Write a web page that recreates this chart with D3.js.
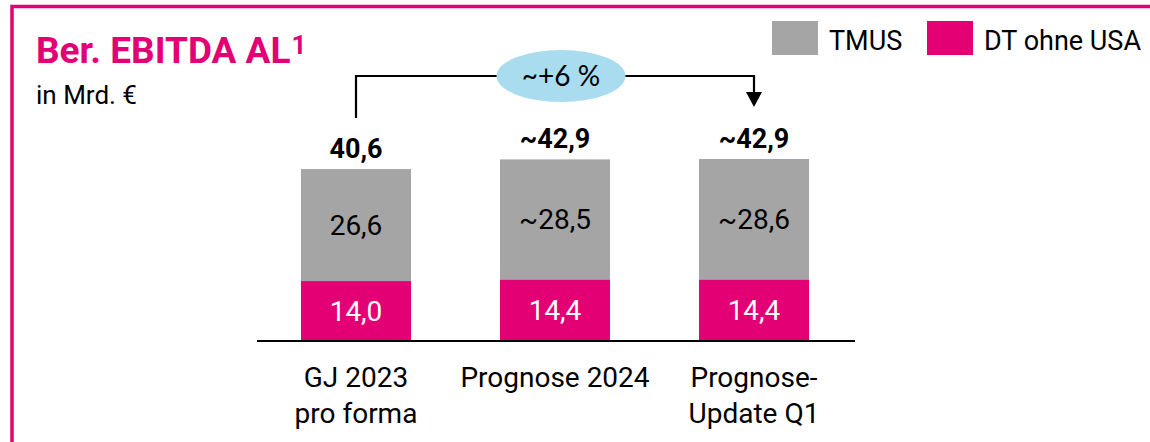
<html>
<head>
<meta charset="utf-8">
<style>
body { margin: 0; background: #ffffff; }
text { font-family: "Roboto", "Liberation Sans", sans-serif; }
</style>
</head>
<body>
<div id="chart"></div>
<script src="https://cdn.jsdelivr.net/npm/d3@7/dist/d3.min.js"></script>
<script>
// values
var categories = [["GJ 2023", "pro forma"], ["Prognose 2024"], ["Prognose-", "Update Q1"]];
var dtValues = [14.0, 14.4, 14.4];
var tmusValues = [26.6, 28.5, 28.6];
var dtLabels = ["14,0", "14,4", "14,4"];
var tmusLabels = ["26,6", "~28,5", "~28,6"];
var totalLabels = ["40,6", "~42,9", "~42,9"];
var seriesNames = ["TMUS", "DT ohne USA"];
var growthLabel = "~+6 %";

var magenta = "#e20074", grey = "#a5a5a5";
var textWeight = 400;

var svg = d3.select("#chart").append("svg")
    .attr("width", 1150)
    .attr("height", 442);

// partial frame (top and left edge)
svg.append("path")
    .attr("d", "M12,442 L12,6.5 L1150,6.5")
    .attr("fill", "none")
    .attr("stroke", magenta)
    .attr("stroke-width", 3.5);

// title
var title = svg.append("text")
    .attr("x", 36)
    .attr("y", 63)
    .attr("fill", magenta)
    .style("font-size", "37px")
    .style("font-weight", "bold");
title.append("tspan").text("Ber. EBITDA AL");
title.append("tspan").attr("dx", 1).attr("dy", -9).style("font-size", "26px").text("1");

svg.append("text")
    .attr("x", 36)
    .attr("y", 104)
    .attr("fill", "#000")
    .style("font-size", "26px")
    .style("font-weight", textWeight)
    .text("in Mrd. €");

// legend
var legend = svg.append("g");
var legendX = [772, 927];
seriesNames.forEach(function (name, i) {
    legend.append("rect")
        .attr("x", legendX[i])
        .attr("y", 21)
        .attr("width", 46)
        .attr("height", 34)
        .attr("fill", i == 0 ? grey : magenta);
    legend.append("text")
        .attr("x", legendX[i] + 57)
        .attr("y", 50)
        .style("font-size", "27px")
        .style("font-weight", textWeight)
        .attr("fill", "#000")
        .text(name);
});

// scales
var x = d3.scaleBand()
    .domain(d3.range(categories.length))
    .range([257, 853])
    .paddingInner(0.447)
    .paddingOuter(0.221);

var y = d3.scaleLinear()
    .domain([0, 50])
    .range([340, 129.5]);

var stack = categories.map(function (c, i) {
    return { i: i, dt: dtValues[i], tmus: tmusValues[i], total: dtValues[i] + tmusValues[i] };
});

var bars = svg.append("g").selectAll("g")
    .data(stack)
    .enter()
    .append("g");

bars.append("rect")
    .attr("x", function (d) { return x(d.i); })
    .attr("width", x.bandwidth())
    .attr("y", function (d) { return y(d.dt); })
    .attr("height", function (d) { return y(0) - y(d.dt); })
    .attr("fill", magenta);

bars.append("rect")
    .attr("x", function (d) { return x(d.i); })
    .attr("width", x.bandwidth())
    .attr("y", function (d) { return y(d.total); })
    .attr("height", function (d) { return y(d.dt) - y(d.total); })
    .attr("fill", grey);

var cx = function (d) { return x(d.i) + x.bandwidth() / 2; };

bars.append("text")
    .attr("x", cx)
    .attr("y", function (d) { return (y(0) + y(d.dt)) / 2 + 10; })
    .attr("text-anchor", "middle")
    .attr("fill", "#fff")
    .style("font-size", "28px")
    .style("font-weight", textWeight)
    .text(function (d) { return dtLabels[d.i]; });

bars.append("text")
    .attr("x", cx)
    .attr("y", function (d) { return (y(d.dt) + y(d.total)) / 2 + 10; })
    .attr("text-anchor", "middle")
    .attr("fill", "#000")
    .style("font-size", "28px")
    .style("font-weight", textWeight)
    .text(function (d) { return tmusLabels[d.i]; });

bars.append("text")
    .attr("x", cx)
    .attr("y", function (d) { return y(d.total) - 11; })
    .attr("text-anchor", "middle")
    .attr("fill", "#000")
    .style("font-size", "27px")
    .style("font-weight", "bold")
    .text(function (d) { return totalLabels[d.i]; });

// baseline
svg.append("line")
    .attr("x1", 257).attr("x2", 855)
    .attr("y1", 341).attr("y2", 341)
    .attr("stroke", "#000")
    .attr("stroke-width", 2);

// category labels
var cat = svg.append("g").selectAll("text")
    .data(stack)
    .enter()
    .append("text")
    .attr("text-anchor", "middle")
    .attr("fill", "#000")
    .style("font-size", "28px")
    .style("font-weight", textWeight);
cat.each(function (d) {
    var t = d3.select(this);
    categories[d.i].forEach(function (line, k) {
        t.append("tspan")
            .attr("x", cx(d))
            .attr("y", 387 + k * 36)
            .text(line);
    });
});

// growth bracket with arrow
var x1 = cx(stack[0]), x3 = cx(stack[2]);
svg.append("path")
    .attr("d", "M" + x1 + ",118 L" + x1 + ",76 L" + x3 + ",76 L" + x3 + ",93")
    .attr("fill", "none")
    .attr("stroke", "#000")
    .attr("stroke-width", 2.2);
svg.append("path")
    .attr("d", "M" + (x3 - 8) + ",92 L" + (x3 + 8) + ",92 L" + x3 + ",107 Z")
    .attr("fill", "#000");

svg.append("ellipse")
    .attr("cx", 561)
    .attr("cy", 76)
    .attr("rx", 64.5)
    .attr("ry", 26)
    .attr("fill", "#a8dcee");

svg.append("text")
    .attr("x", 561)
    .attr("y", 86)
    .attr("text-anchor", "middle")
    .attr("fill", "#000")
    .style("font-family", "Lato, sans-serif")
    .style("font-size", "28px")
    .text(growthLabel);
</script>
</body>
</html>
